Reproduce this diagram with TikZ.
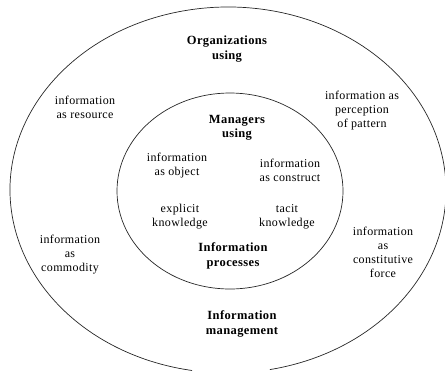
\documentclass[tikz,border=0pt]{standalone}
\usepackage{fontspec}
\setmainfont{Liberation Serif}
\usepackage{tikz}

\begin{document}
\begin{tikzpicture}[x=1pt,y=-1pt]
            \tikzset{ring/.style = {draw=black!85, line width=0.7pt}}
            \tikzset{lbl/.style = {align=center, inner sep=0pt, font=\fontsize{12}{14}\selectfont\addfontfeature{LetterSpace=3}}}
            \tikzset{head/.style = {lbl, font=\fontsize{12.5}{14.5}\selectfont\bfseries\addfontfeature{LetterSpace=3}}}
            \useasboundingbox (0,0) rectangle (445,376);
            % rings
            \coordinate (outerhub) at (228,190);
            \coordinate (innerhub) at (230,191);
            \draw[ring] (outerhub) ++(281.1:218pt and 183pt) arc [start angle=281.1, end angle=620.5, x radius=218pt, y radius=183pt];
            \draw[ring] (innerhub) ellipse [x radius=113pt, y radius=98pt];
            % outer ring
            \node[head] (orgs) at (227,49) {Organizations\\using};
            \node[lbl] (resource) at (85,107) {information\\as resource};
            \node[lbl] (pattern) at (362,111) {information as\\perception\\of pattern};
            \node[lbl] (commodity) at (70,255) {information\\as\\commodity};
            \node[lbl] (force) at (383,252) {information\\as\\constitutive\\force};
            \node[head] (infomgmt) at (242,324) {Information\\management};
            % inner ring
            \node[head] (managers) at (237,128) {Managers\\using};
            \node[lbl] (object) at (177,166) {information\\as object};
            \node[lbl] (construct) at (290,170) {information\\as construct};
            \node[lbl] (explicit) at (180,217) {explicit\\knowledge};
            \node[lbl] (tacit) at (287,217) {tacit\\knowledge};
            \node[head] (processes) at (233,256) {Information\\processes};
\end{tikzpicture}
\end{document}
